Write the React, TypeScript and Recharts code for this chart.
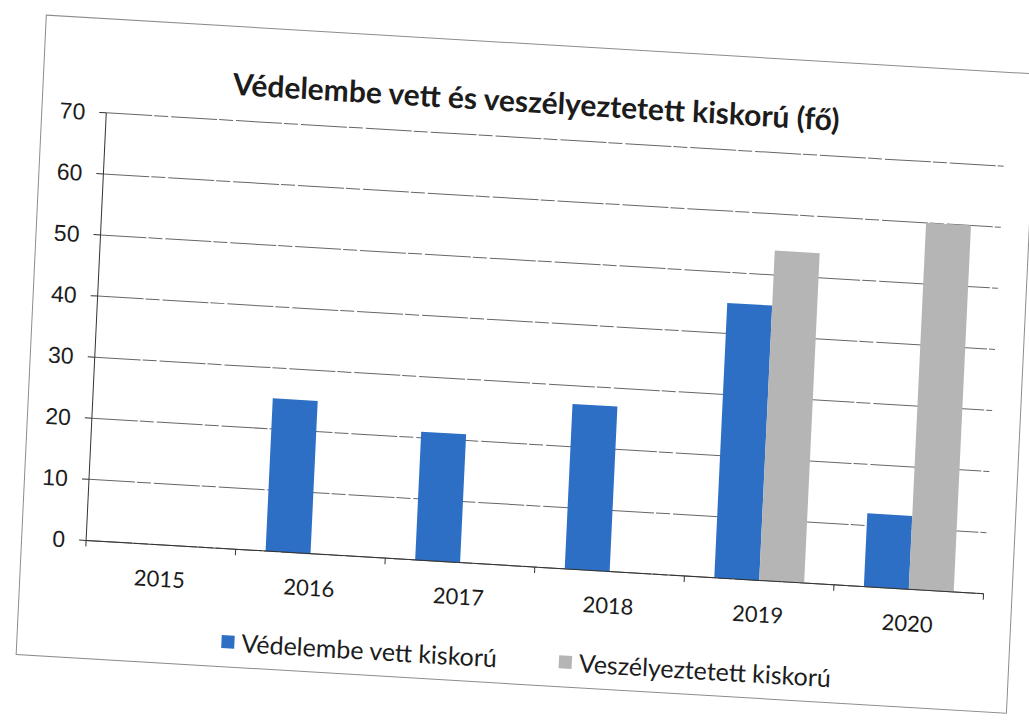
import { BarChart, Bar, XAxis, YAxis, CartesianGrid } from "recharts";

const years = ["2015", "2016", "2017", "2018", "2019", "2020"];
const vedelembeVett = [0, 25, 21, 27, 45, 12];
const veszelyeztetett = [0, 0, 0, 0, 54, 60];
const yTicks = [0, 10, 20, 30, 40, 50, 60, 70];

const seriesNames = ["Védelembe vett kiskorú", "Veszélyeztetett kiskorú"];
const BLUE = "#2e6fc6";
const GRAY = "#b5b5b5";
const INK = "#1c1c1c";

const data = years.map((year, i) => ({
  year,
  vedelembe: vedelembeVett[i],
  veszelyeztetett: veszelyeztetett[i],
}));

const X_TICK_SIZE = 6;

// the scanned page is slightly tilted: horizontals ~3.4deg, verticals ~2.7deg
const TILT = "matrix(0.99824, 0.05931, -0.04711, 0.99889, 0, 0)";

// year label plus the small tick marks Excel puts between categories
function YearTick(props: any) {
  const { x, y, payload, index, width } = props;
  const half =
    payload && payload.offset ? payload.offset : (width || 900) / years.length / 2;
  const axisY = y - X_TICK_SIZE;
  return (
    <g>
      <line x1={x - half} x2={x - half} y1={axisY} y2={axisY + 6} stroke="#333" />
      {index === years.length - 1 && (
        <line x1={x + half} x2={x + half} y1={axisY} y2={axisY + 6} stroke="#333" />
      )}
      <text
        x={x}
        y={axisY + 42}
        textAnchor="middle"
        fill={INK}
        fontSize={22}
        fontFamily="Lato, sans-serif"
      >
        {payload.value}
      </text>
    </g>
  );
}

function LegendItem({ left, color, label }: { left: number; color: string; label: string }) {
  return (
    <div
      style={{
        position: "absolute",
        left,
        top: 641,
        height: 34,
        display: "flex",
        alignItems: "center",
        gap: 7,
        fontFamily: "Lato, sans-serif",
        fontSize: 25,
        color: INK,
        whiteSpace: "nowrap",
      }}
    >
      <span style={{ width: 13, height: 13, background: color, display: "inline-block" }} />
      <span>{label}</span>
    </div>
  );
}

export default function App() {
  return (
    <div
      style={{
        position: "fixed",
        left: 0,
        top: 0,
        width: 1029,
        height: 722,
        background: "#fff",
        overflow: "hidden",
      }}
    >
      <div
        style={{
          position: "absolute",
          left: 0,
          top: 0,
          width: 1029,
          height: 722,
          transform: TILT,
          transformOrigin: "514.5px 361px",
        }}
      >
        <div
          style={{
            position: "absolute",
            left: 30,
            top: 43,
            width: 993,
            height: 641,
            border: "1px solid #8c8c8c",
            boxSizing: "border-box",
          }}
        />
        <div
          style={{
            position: "absolute",
            left: 0,
            top: 83,
            width: 1048,
            textAlign: "center",
            fontFamily: "Lato, sans-serif",
            fontWeight: 700,
            fontSize: 30,
            lineHeight: "34px",
            color: INK,
          }}
        >
          Védelembe vett és veszélyeztetett kiskorú (fő)
        </div>
        <div style={{ position: "absolute", left: 0, top: 0 }}>
          <BarChart
            width={1029}
            height={722}
            data={data}
            margin={{ top: 137.5, right: 35, bottom: 116.5, left: 35 }}
            barCategoryGap="20%"
            barGap={0}
          >
            <CartesianGrid
              vertical={false}
              stroke="#666"
              strokeDasharray="46 2 14 3"
            />
            <XAxis
              dataKey="year"
              height={40}
              axisLine={{ stroke: "#333" }}
              tickLine={false}
              tickSize={X_TICK_SIZE}
              tickMargin={0}
              tick={<YearTick />}
              interval={0}
            />
            <YAxis
              width={60}
              domain={[0, 70]}
              ticks={yTicks}
              axisLine={{ stroke: "#333" }}
              tickLine={{ stroke: "#333" }}
              tickSize={7}
              tickMargin={14}
              tick={{ fill: INK, fontSize: 23, fontFamily: "Liberation Sans, Arial, sans-serif" }}
            />
            <Bar dataKey="vedelembe" name={seriesNames[0]} fill={BLUE} isAnimationActive={false} />
            <Bar dataKey="veszelyeztetett" name={seriesNames[1]} fill={GRAY} isAnimationActive={false} />
          </BarChart>
        </div>
        <LegendItem left={235} color={BLUE} label={seriesNames[0]} />
        <LegendItem left={573} color={GRAY} label={seriesNames[1]} />
      </div>
    </div>
  );
}
